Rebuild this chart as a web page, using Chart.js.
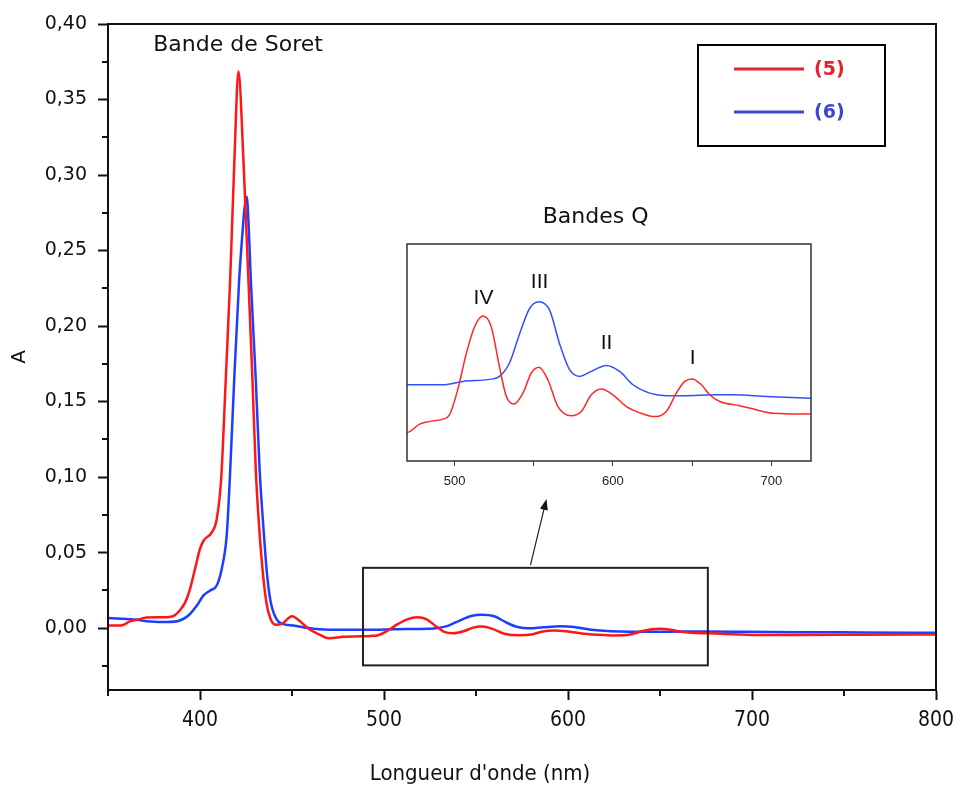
<!DOCTYPE html>
<html>
<head>
<meta charset="utf-8">
<script src="https://cdn.jsdelivr.net/npm/chart.js@4.4.1/dist/chart.umd.min.js"></script>
<style>
  html, body { margin: 0; padding: 0; background: #fff; }
  #wrap { position: relative; width: 955px; height: 787px; }
  #main { position: absolute; left: 0; top: 0; }
  #inset { position: absolute; left: 400px; top: 236px; }
</style>
</head>
<body>
<div id="wrap">
  <canvas id="main" width="955" height="787"></canvas>
  <canvas id="inset" width="420" height="264"></canvas>
</div>
<script>
// spectre (5) - longueurs d'onde (nm) et absorbance
var wl5 = [350,357,362,366,371,382,386,389,392,394.6,397.3,400,402,406.4,409.1,411.5,414,416.4,418.7,420.9,
  423.6,426.3,428.5,430.3,432.2,434.2,436.2,438.2,441,444.5,450,454.5,459,465,470,478,484,492.6,496.8,502,507.4,
  512.6,518,523.2,528.4,532.7,537.5,543.2,548.4,553.3,558.9,565.3,573.7,580,586.3,592.7,600,608.5,621,625.3,633.7,
  640,645.3,650,655.8,661,667.4,680,692.7,701,725,760,800];
var abs5 = [0.0017,0.0017,0.0044,0.0055,0.0070,0.0072,0.0083,0.0116,0.0172,0.026,0.0392,0.0524,0.058,0.0634,0.0722,0.0987,0.1648,0.231,0.310,0.3686,
  0.310,0.231,0.1648,0.105,0.066,0.036,0.016,0.0065,0.0022,0.0028,0.0079,0.0044,-0.0005,-0.0044,-0.0068,-0.0058,-0.0055,-0.0052,-0.0047,-0.0017,0.0026,
  0.0058,0.0071,0.0058,0.0010,-0.0025,-0.0034,-0.0021,0.0003,0.0010,-0.0005,-0.0037,-0.0048,-0.0043,-0.0023,-0.0016,-0.0023,-0.0037,-0.0047,-0.0049,-0.0043,
  -0.0021,-0.0007,-0.0004,-0.0011,-0.0023,-0.0031,-0.0036,-0.0042,-0.0045,-0.0046,-0.0044,-0.0042];

// spectre (6)
var wl6 = [350,364,373,382,389,393.7,398.3,401.8,405.5,409.1,411.8,414.5,416.2,418.6,421.3,422.8,424.2,425.4,426.5,427.6,430.3,432.4,
  434.5,436.4,438.3,440.2,443.5,450.8,458,465,470,493,505.3,524.2,528.4,534.7,541.1,547.4,553.3,560,566.3,572.6,579,
  586.3,595.8,604.2,612.7,623.2,633.7,644.3,665.3,675.8,696.9,724.7,760,800];
var abs6 = [0.0066,0.0057,0.0044,0.0040,0.0050,0.0083,0.0149,0.0215,0.0249,0.0282,0.0392,0.0612,0.0987,0.1648,0.231,0.257,0.278,0.2856,0.265,0.231,0.1648,0.105,
  0.066,0.036,0.018,0.0095,0.0035,0.0017,0.0002,-0.0008,-0.0011,-0.0011,-0.0007,-0.0004,-0.0001,0.0015,0.0050,0.0080,0.0088,0.0078,0.0038,0.0007,-0.0001,
  0.0005,0.0012,0.0005,-0.0011,-0.0021,-0.0024,-0.0024,-0.0023,-0.0023,-0.0025,-0.0027,-0.0029,-0.0031];

var xTicks = [400, 500, 600, 700, 800];
var xMinor = [350, 450, 550, 650, 750];
var yTicks = [0, 0.05, 0.10, 0.15, 0.20, 0.25, 0.30, 0.35, 0.40];
var yMinor = [-0.025, 0.025, 0.075, 0.125, 0.175, 0.225, 0.275, 0.325, 0.375];
var insetTicks = [500, 600, 700];
var insetMinor = [550, 650];
var bandNames = ["IV", "III", "II", "I"];
var bandPos = [[518.3, 0.0092], [553.7, 0.0111], [596, 0.0039], [650.3, 0.0021]];

var red = "rgb(255,22,22)";
var blue = "rgb(30,62,255)";
var narrow = "'Liberation Sans Narrow', 'DejaVu Sans Condensed', 'Liberation Sans', sans-serif";

function pts(wl, ab) {
  return wl.map(function (x, i) { return { x: x, y: ab[i] }; });
}

// cadre, petites graduations, encadré, flèche, légende
const decor = {
  id: "decor",
  afterDraw(chart) {
    const ctx = chart.ctx, a = chart.chartArea;
    const xs = chart.scales.x, ys = chart.scales.y;
    ctx.save();
    ctx.strokeStyle = "#111";
    ctx.lineWidth = 2;
    ctx.strokeRect(a.left, a.top, a.right - a.left, a.bottom - a.top);

    ctx.beginPath();
    yMinor.forEach(function (v) {
      const p = Math.round(ys.getPixelForValue(v));
      ctx.moveTo(a.left, p); ctx.lineTo(a.left - 6, p);
    });
    xMinor.forEach(function (v) {
      const p = Math.round(xs.getPixelForValue(v));
      ctx.moveTo(p, a.bottom); ctx.lineTo(p, a.bottom + 6);
    });
    ctx.stroke();

    // zone agrandie
    const rx1 = xs.getPixelForValue(488.6), rx2 = xs.getPixelForValue(676);
    const ry1 = ys.getPixelForValue(0.0399), ry2 = ys.getPixelForValue(-0.0247);
    ctx.strokeStyle = "#222";
    ctx.lineWidth = 2;
    ctx.strokeRect(rx1, ry1, rx2 - rx1, ry2 - ry1);

    // flèche
    const ax1 = xs.getPixelForValue(579.6), ay1 = ys.getPixelForValue(0.0417);
    const ax2 = xs.getPixelForValue(588.3), ay2 = ys.getPixelForValue(0.0855);
    const ang = Math.atan2(ay2 - ay1, ax2 - ax1);
    ctx.lineWidth = 1.2;
    ctx.beginPath();
    ctx.moveTo(ax1, ay1);
    ctx.lineTo(ax2 - 9 * Math.cos(ang), ay2 - 9 * Math.sin(ang));
    ctx.stroke();
    ctx.fillStyle = "#111";
    ctx.beginPath();
    ctx.moveTo(ax2, ay2);
    ctx.lineTo(ax2 - 11 * Math.cos(ang) + 4 * Math.sin(ang), ay2 - 11 * Math.sin(ang) - 4 * Math.cos(ang));
    ctx.lineTo(ax2 - 11 * Math.cos(ang) - 4 * Math.sin(ang), ay2 - 11 * Math.sin(ang) + 4 * Math.cos(ang));
    ctx.closePath();
    ctx.fill();

    // textes
    ctx.fillStyle = "#111";
    ctx.font = "22px 'DejaVu Sans'";
    ctx.textAlign = "center";
    ctx.textBaseline = "middle";
    ctx.fillText("Bande de Soret", xs.getPixelForValue(420.7), ys.getPixelForValue(0.3856));
    ctx.fillText("Bandes Q", xs.getPixelForValue(615), ys.getPixelForValue(0.2717));

    // titre de l'axe x (décalé à gauche comme sur l'original)
    ctx.font = "22px " + narrow;
    ctx.fillText("Longueur d'onde (nm)", 480, 774);

    // légende
    ctx.lineWidth = 2;
    ctx.strokeStyle = "#000";
    ctx.strokeRect(698, 45, 187, 101);
    ctx.lineWidth = 3;
    ctx.strokeStyle = "#e8202a";
    ctx.beginPath(); ctx.moveTo(734, 69); ctx.lineTo(804, 69); ctx.stroke();
    ctx.strokeStyle = "#3c46cc";
    ctx.beginPath(); ctx.moveTo(734, 112); ctx.lineTo(804, 112); ctx.stroke();
    ctx.font = "bold 19px 'DejaVu Sans'";
    ctx.textAlign = "left";
    ctx.fillStyle = "#e8202a";
    ctx.fillText("(5)", 814, 70);
    ctx.fillStyle = "#3c46cc";
    ctx.fillText("(6)", 814, 113);
    ctx.restore();
  }
};

new Chart(document.getElementById("main"), {
  type: "line",
  data: {
    datasets: [
      { label: "(5)", data: pts(wl5, abs5), borderColor: red, borderWidth: 2.5, pointRadius: 0, cubicInterpolationMode: "monotone", fill: false },
      { label: "(6)", data: pts(wl6, abs6), borderColor: blue, borderWidth: 2.5, pointRadius: 0, cubicInterpolationMode: "monotone", fill: false }
    ]
  },
  options: {
    responsive: false,
    animation: false,
    devicePixelRatio: 1,
    layout: { padding: { top: 24, right: 19, left: 0, bottom: 0 } },
    plugins: { legend: { display: false }, tooltip: { enabled: false } },
    scales: {
      x: {
        type: "linear", min: 350, max: 800,
        afterBuildTicks: function (s) { s.ticks = xTicks.map(function (v) { return { value: v }; }); },
        afterFit: function (s) { s.height = 97; s.paddingLeft = 0; s.paddingRight = 0; },
        ticks: { font: { family: narrow, size: 21 }, color: "#111", padding: 8, maxRotation: 0,
          callback: function (v) { return String(v); } },
        grid: { drawOnChartArea: false, tickLength: 10, tickWidth: 2, tickColor: "#111" },
        border: { color: "#111", width: 2 }
      },
      y: {
        min: -0.041, max: 0.40,
        afterBuildTicks: function (s) { s.ticks = yTicks.map(function (v) { return { value: v }; }); },
        afterFit: function (s) { s.width = 108; s.paddingTop = 0; s.paddingBottom = 0; },
        ticks: { font: { family: "'DejaVu Sans'", size: 19 }, color: "#111", padding: 11,
          callback: function (v) { return v.toFixed(2).replace(".", ","); } },
        grid: { drawOnChartArea: false, tickLength: 10, tickWidth: 2, tickColor: "#111" },
        border: { color: "#111", width: 2 },
        title: { display: true, text: "A", color: "#111", font: { family: "'DejaVu Sans'", size: 20 }, padding: { top: 8, bottom: 0 } }
      }
    }
  },
  plugins: [decor]
});

// encart : bandes Q
const insetDecor = {
  id: "insetDecor",
  beforeDraw(chart) {
    const ctx = chart.ctx, a = chart.chartArea;
    ctx.save();
    ctx.fillStyle = "#fff";
    ctx.fillRect(a.left, a.top, a.right - a.left, a.bottom - a.top);
    ctx.restore();
  },
  afterDraw(chart) {
    const ctx = chart.ctx, a = chart.chartArea;
    const xs = chart.scales.x, ys = chart.scales.y;
    ctx.save();
    ctx.strokeStyle = "#333";
    ctx.lineWidth = 1.5;
    ctx.strokeRect(a.left, a.top, a.right - a.left, a.bottom - a.top);
    ctx.fillStyle = "#111";
    ctx.font = "21px 'Liberation Sans'";
    ctx.textAlign = "center";
    ctx.textBaseline = "middle";
    bandNames.forEach(function (n, i) {
      ctx.fillText(n, xs.getPixelForValue(bandPos[i][0]), ys.getPixelForValue(bandPos[i][1]));
    });
    ctx.restore();
  }
};

new Chart(document.getElementById("inset"), {
  type: "line",
  data: {
    datasets: [
      { data: pts(wl5, abs5), borderColor: "rgb(255,40,40)", borderWidth: 1.5, pointRadius: 0, cubicInterpolationMode: "monotone", fill: false },
      { data: pts(wl6, abs6), borderColor: "rgb(50,80,255)", borderWidth: 1.5, pointRadius: 0, cubicInterpolationMode: "monotone", fill: false }
    ]
  },
  options: {
    responsive: false,
    animation: false,
    devicePixelRatio: 1,
    layout: { padding: { top: 8, right: 9, left: 7, bottom: 0 } },
    plugins: { legend: { display: false }, tooltip: { enabled: false } },
    scales: {
      x: {
        type: "linear", min: 470, max: 725,
        afterBuildTicks: function (s) {
          s.ticks = insetTicks.concat(insetMinor).sort().map(function (v) { return { value: v }; });
        },
        afterFit: function (s) { s.height = 39; s.paddingLeft = 0; s.paddingRight = 0; },
        ticks: { font: { family: "'Liberation Sans'", size: 13 }, color: "#222", padding: 8, maxRotation: 0,
          callback: function (v) { return insetTicks.indexOf(v) >= 0 ? String(v) : ""; } },
        grid: { drawOnChartArea: false, tickLength: 5, tickWidth: 1, tickColor: "#333" },
        border: { display: false }
      },
      y: { display: false, min: -0.0102, max: 0.0157 }
    }
  },
  plugins: [insetDecor]
});
</script>
</body>
</html>
